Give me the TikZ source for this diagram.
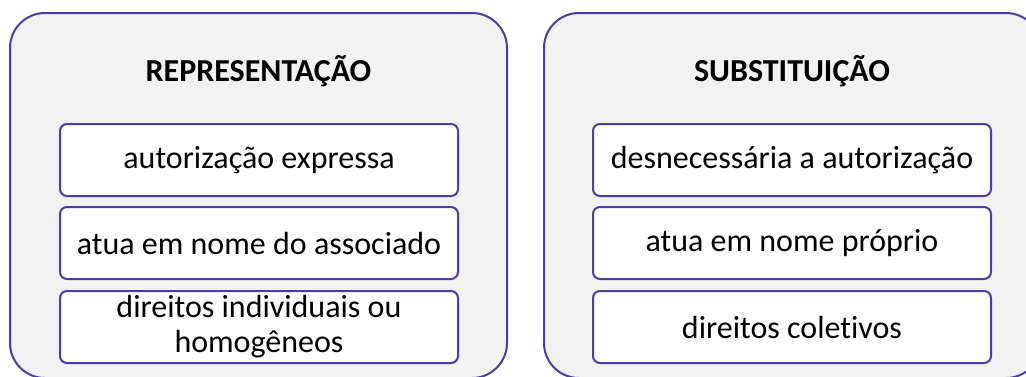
\documentclass[tikz,border=0pt]{standalone}
\usepackage{fontspec}
\setmainfont{Carlito}[Ligatures={NoCommon}]
\definecolor{framecol}{RGB}{75,60,170}
\definecolor{panelcol}{RGB}{242,242,242}
\tikzset{
  panel/.style={draw=framecol, line width=2pt, fill=panelcol, rounded corners=35pt,
    minimum width=497pt, minimum height=365pt, inner sep=0pt},
  itembox/.style={draw=framecol, line width=2pt, fill=white, rounded corners=7pt,
    minimum width=398pt, minimum height=72pt, inner sep=0pt, align=center,
    font=\fontsize{32}{35}\selectfont},
  heading/.style={font=\fontsize{32}{37}\selectfont\bfseries}
}
\begin{document}
\begin{tikzpicture}[x=1pt,y=-1pt]
			\useasboundingbox (0,0) rectangle (1026,376);
			\begin{scope}
				\clip (0,0) rectangle (1026,376);
				% Panels
				\node[panel] (rep) at (258.5,195.5) {};
				\node[panel] (sub) at (792.5,195.5) {};
			\end{scope}
			% Headings
			\node[heading] (rephead) at (258.5,71) {REPRESENTAÇÃO};
			\node[heading] (subhead) at (792,71) {SUBSTITUIÇÃO};
			% Items
			\foreach \y/\name/\txt in {160/repa/autorização expressa,243/repb/atua em nome do associado,327/repc/{direitos individuais ou\\homogêneos}} {
					\node[itembox] (\name) at (259,\y) {\txt};
				}
			\foreach \y/\name/\txt in {160/suba/desnecessária a autorização,243/subb/atua em nome próprio,327/subc/direitos coletivos} {
					\node[itembox] (\name) at (792,\y) {\txt};
				}
		\end{tikzpicture}
\end{document}
